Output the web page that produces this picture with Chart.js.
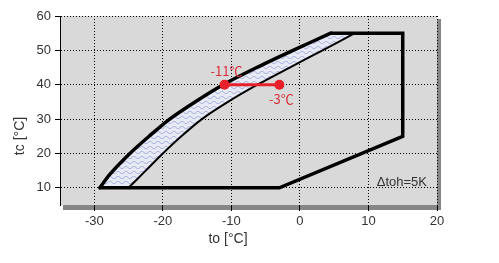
<!DOCTYPE html>
<html><head><meta charset="utf-8">
<script src="https://cdn.jsdelivr.net/npm/chart.js@4/dist/chart.umd.min.js"></script>
<style>html,body{margin:0;padding:0;background:#fff;}#wrap{width:499px;height:263px;}</style>
</head><body><div id="wrap"><canvas id="c" width="499" height="263"></canvas></div>
<script>
// ---- data ----
const outerX = [-29.2, -27.7, -24.8, -22.0, -19.0, -15.3, -11.2, -6.3, -1.0, 4.5];
const outerY = [10, 14, 20, 25, 30, 35, 40, 45, 50, 55];
const innerX = [-25.0, -22.5, -20.0, -17.3, -14.3, -10.5, -6.2, -1.5, 3.3, 8.0];
const innerY = [10, 15, 20, 25, 30, 35, 40, 45, 50, 55];
const envX = [4.5, 15, 15, -3, -29.2];
const envY = [55, 55, 25, 10, 10];
const opX = [-11, -3];
const opY = [40, 40];
const opLabels = ['-11\u2103', '-3\u2103'];
const xTicks = [-30, -20, -10, 0, 10, 20];
const yTicks = [10, 20, 30, 40, 50, 60];
const xTitle = 'to [°C]';
const yTitle = 'tc [°C]';
const noteText = 'Δtoh=5K';

const toPts = (xs, ys) => xs.map((x, i) => ({x: x, y: ys[i]}));
const shadePts = toPts(outerX, outerY).concat(toPts(innerX, innerY).reverse());

function makePattern() {
  const c = document.createElement('canvas');
  c.width = 8; c.height = 5;
  const g = c.getContext('2d');
  g.fillStyle = '#e8ebf5';
  g.fillRect(0, 0, 8, 5);
  g.strokeStyle = '#8f9bd0';
  g.lineWidth = 0.8;
  g.beginPath();
  for (let x = 0; x <= 8; x += 0.5) {
    const y = 2.5 + 1.1 * Math.sin(x / 8 * 2 * Math.PI);
    if (x === 0) g.moveTo(x, y); else g.lineTo(x, y);
  }
  g.stroke();
  return g.createPattern(c, 'repeat');
}

const FONT = "'Liberation Sans', Arial, sans-serif";

const bgPlugin = {
  id: 'bg',
  beforeDraw(chart) {
    const {ctx, chartArea: a} = chart;
    ctx.save();
    ctx.fillStyle = '#858585';
    ctx.fillRect(a.left + 3, a.bottom, a.right - a.left + 1, 5);
    ctx.fillRect(a.right, a.top + 3, 4, a.bottom - a.top + 2);
    ctx.fillStyle = '#d9d9d9';
    ctx.fillRect(a.left, a.top, a.right - a.left, a.bottom - a.top);
    ctx.restore();
  },
  afterDraw(chart) {
    const {ctx, chartArea: a, scales} = chart;
    ctx.save();
    // axis titles
    ctx.fillStyle = '#333';
    ctx.font = '14px ' + FONT;
    ctx.textAlign = 'center';
    ctx.textBaseline = 'middle';
    ctx.fillText(xTitle, 228, 239);
    ctx.translate(20, 136);
    ctx.rotate(-Math.PI / 2);
    ctx.fillText(yTitle, 0, 0);
    ctx.setTransform(1, 0, 0, 1, 0, 0);
    // note
    ctx.font = '13px ' + FONT;
    ctx.textAlign = 'right';
    ctx.fillText(noteText, a.right - 10, a.bottom - 23);
    // red labels
    ctx.fillStyle = '#d8303c';
    ctx.font = "13px 'Noto Sans CJK SC', 'DejaVu Sans', sans-serif";
    ctx.textAlign = 'center';
    const offs = [-14, 14];
    opX.forEach((x, i) => {
      const px = scales.x.getPixelForValue(x) + 2;
      const py = scales.y.getPixelForValue(opY[i]) + offs[i];
      ctx.fillText(opLabels[i], px, py);
    });
    ctx.restore();
  }
};

new Chart(document.getElementById('c'), {
  type: 'scatter',
  data: {
    datasets: [
      {data: toPts(opX, opY), showLine: true, borderColor: '#e8202a', backgroundColor: '#e8202a',
       borderWidth: 3, pointRadius: 5, pointBorderWidth: 0},
      {data: toPts(outerX, outerY), showLine: true, borderColor: '#000', borderWidth: 3.5,
       pointRadius: 0, tension: 0.3, borderCapStyle: 'round'},
      {data: toPts(envX, envY), showLine: true, borderColor: '#000', borderWidth: 3.5,
       pointRadius: 0, tension: 0, borderJoinStyle: 'miter'},
      {data: toPts(innerX, innerY), showLine: true, borderColor: '#000', borderWidth: 2,
       pointRadius: 0, tension: 0.3},
      {data: shadePts, showLine: true, borderWidth: 0, borderColor: 'rgba(0,0,0,0)',
       backgroundColor: makePattern(), fill: 'shape', pointRadius: 0, tension: 0}
    ]
  },
  options: {
    responsive: false,
    animation: false,
    devicePixelRatio: 1,
    layout: {padding: {left: 0, right: 62, top: 16, bottom: 0}},
    plugins: {legend: {display: false}, tooltip: {enabled: false}},
    scales: {
      x: {
        type: 'linear', min: -35, max: 20,
        afterBuildTicks: s => { s.ticks = xTicks.map(v => ({value: v})); },
        afterFit: s => { s.height = 58; },
        border: {display: false, dash: [1, 2]},
        grid: {color: '#000', lineWidth: 1, tickLength: 6, tickColor: '#000',
               tickBorderDash: [], drawOnChartArea: true},
        ticks: {color: '#333', font: {family: FONT, size: 13}, padding: 3, maxRotation: 0},
        title: {display: false}
      },
      y: {
        type: 'linear', min: 5, max: 60,
        afterBuildTicks: s => { s.ticks = yTicks.map(v => ({value: v})); },
        afterFit: s => { s.width = 60; },
        border: {display: true, color: '#000', width: 1, dash: [1, 2]},
        grid: {color: '#000', lineWidth: 1, tickLength: 5, tickColor: '#000', tickBorderDash: []},
        ticks: {color: '#333', font: {family: FONT, size: 13}, padding: 4},
        title: {display: false}
      }
    }
  },
  plugins: [bgPlugin]
});
</script>
</body></html>
